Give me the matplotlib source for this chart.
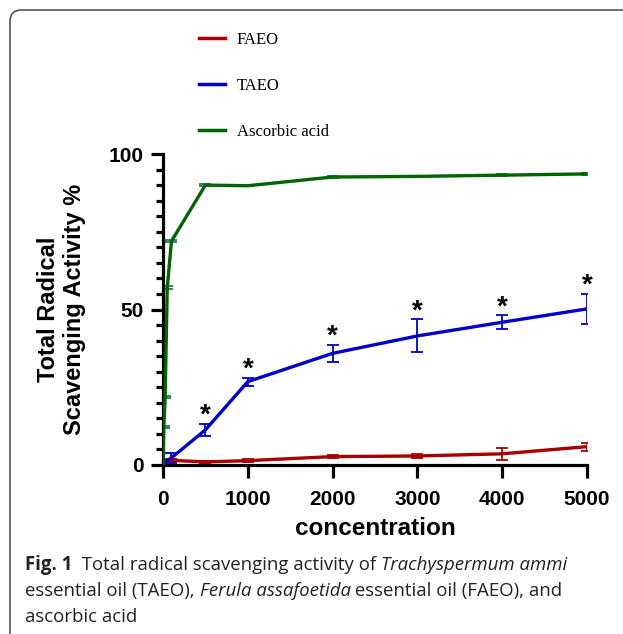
import numpy as np
import matplotlib
matplotlib.use('Agg')
import matplotlib.pyplot as plt
from matplotlib.patches import FancyBboxPatch
from matplotlib.ticker import MultipleLocator

# ---------------------------------------------------------------------------
# Data
# ---------------------------------------------------------------------------
faeo_x = [0, 100, 500, 1000, 2000, 3000, 4000, 5000]
faeo_y = [0.8, 1.5, 1.0, 1.4, 2.7, 2.9, 3.6, 5.9]
faeo_err = [0.3, 0.4, 0.4, 0.4, 0.6, 0.5, 1.9, 1.3]

taeo_x = [0, 100, 500, 1000, 2000, 3000, 4000, 5000]
taeo_y = [0.6, 2.3, 11.3, 26.8, 35.9, 41.5, 45.9, 50.2]
taeo_err = [0.3, 1.5, 2.0, 1.3, 2.8, 5.3, 2.2, 4.9]

asc_x = [0, 10, 25, 50, 100, 500, 1000, 2000, 3000, 4000, 5000]
asc_y = [0, 12.2, 21.9, 57.0, 72.0, 90.0, 89.8, 92.6, 92.8, 93.2, 93.6]
asc_err = [0, 0.3, 0.3, 0.5, 0.4, 0.3, 0.2, 0.2, 0.2, 0.3, 0.2]

# TAEO points marked as significant
star_idx = [2, 3, 4, 5, 6, 7]

W, H = 623, 634
RED = '#a80000'
BLUE = '#0000c8'
GREEN = '#006400'
GREEN_ERR = '#1e7a5a'

fig = plt.figure(figsize=(W / 100, H / 100), dpi=100)

# frame of the journal figure box
fig.patches.append(FancyBboxPatch((10 / W, -0.1), 1.2, (H - 10) / H + 0.1,
                                  boxstyle='round,pad=0,rounding_size=0.018',
                                  transform=fig.transFigure, fill=False,
                                  edgecolor='#555555', lw=1.2))

ax = fig.add_axes([163 / W, 1 - 465 / H, (587 - 163) / W, (465 - 154) / H])

for x, y, e, c, ec in [(faeo_x, faeo_y, faeo_err, RED, RED),
                       (taeo_x, taeo_y, taeo_err, BLUE, BLUE),
                       (asc_x, asc_y, asc_err, GREEN, GREEN_ERR)]:
    ax.plot(x, y, color=c, lw=2.4, solid_capstyle='butt', zorder=3)
    ax.errorbar(x, y, yerr=e, fmt='none', ecolor=ec, elinewidth=1.3,
                capsize=4.5, capthick=1.3, zorder=2)

for i in star_idx:
    ax.text(taeo_x[i], taeo_y[i] + taeo_err[i] + 2.6, '*', ha='center',
            va='center', fontsize=20, fontweight='bold',
            family='Liberation Sans')

ax.set_xlim(0, 5000)
ax.set_ylim(0, 100)
ax.set_xticks([0, 1000, 2000, 3000, 4000, 5000])
ax.set_yticks([0, 50, 100])
ax.yaxis.set_minor_locator(MultipleLocator(5))
for s in ['top', 'right']:
    ax.spines[s].set_visible(False)
for s in ['left', 'bottom']:
    ax.spines[s].set_linewidth(2.3)
ax.tick_params(axis='both', which='major', length=9, width=2.3)
ax.tick_params(axis='x', which='major', pad=9)
ax.tick_params(axis='y', which='major', pad=5)
ax.tick_params(axis='y', which='minor', length=5, width=2.3)
for lab in ax.get_xticklabels() + ax.get_yticklabels():
    lab.set_fontfamily('Liberation Sans')
    lab.set_fontweight('bold')
    lab.set_fontsize(15)

ax.set_xlabel('concentration', fontsize=17.5, fontweight='bold',
              family='Liberation Sans', labelpad=6)
ax.set_ylabel('Total Radical\nScavenging Activity %', fontsize=17,
              fontweight='bold', family='Liberation Sans', labelpad=16,
              linespacing=1.2)

# legend at the top of the panel
handles = [plt.Line2D([], [], color=c, lw=2.5) for c in (RED, BLUE, GREEN)]
fig.legend(handles, ['FAEO', 'TAEO', 'Ascorbic acid'], loc='upper left',
           bbox_to_anchor=(184 / W, 1 - 17 / H), frameon=False,
           prop={'family': 'Liberation Serif', 'size': 12},
           handlelength=1.55, handletextpad=0.7, labelspacing=1.8)

# caption with mixed bold / italic pieces
fig.canvas.draw()
renderer = fig.canvas.get_renderer()
cap_lines = [
    [('Fig. 1', 'bold', 'normal'), ('  Total radical scavenging activity of ', 'normal', 'normal'),
     ('Trachyspermum ammi', 'normal', 'italic')],
    [('essential oil (TAEO), ', 'normal', 'normal'), ('Ferula assafoetida', 'normal', 'italic'),
     (' essential oil (FAEO), and', 'normal', 'normal')],
    [('ascorbic acid', 'normal', 'normal')],
]
cap_y = [565, 591, 617]
for pieces, yy in zip(cap_lines, cap_y):
    xx = 25
    for txt, wt, st in pieces:
        t = fig.text(xx / W, 1 - yy / H, txt, fontsize=13.4, fontweight=wt,
                     fontstyle=st, family='Open Sans', va='center', ha='left',
                     color='#222222')
        bb = t.get_window_extent(renderer)
        xx += bb.width

fig.savefig('out.png', dpi=100)
